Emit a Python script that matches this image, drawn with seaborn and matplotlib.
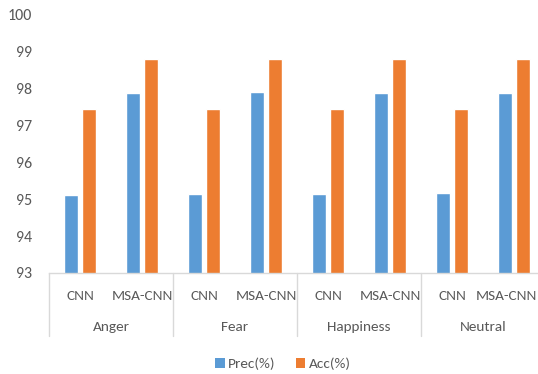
import matplotlib
matplotlib.use("Agg")
import matplotlib.pyplot as plt
import matplotlib.transforms as mtransforms
from matplotlib.patches import Patch
import seaborn as sns
import pandas as pd

emotions = ["Anger", "Fear", "Happiness", "Neutral"]
models = ["CNN", "MSA-CNN"]
prec = [95.12, 97.88, 95.14, 97.90, 95.14, 97.89, 95.17, 97.89]
acc = [97.44, 98.80, 97.44, 98.80, 97.44, 98.80, 97.44, 98.80]
y_ticks = [93, 94, 95, 96, 97, 98, 99, 100]
series_names = ["Prec(%)", "Acc(%)"]
colors = ["#5B9BD5", "#ED7D31"]

keys = [f"{e}|{m}" for e in emotions for m in models]
df = pd.DataFrame({
    "key": keys * 2,
    "value": prec + acc,
    "metric": [series_names[0]] * len(keys) + [series_names[1]] * len(keys),
})

sns.set_theme(style="white")
plt.rcParams["font.family"] = ["Carlito", "Lato", "DejaVu Sans"]

W, H = 538, 374
fs = 11
fig = plt.figure(figsize=(W / 100, H / 100), dpi=100)
left, right, top, bottom = 49, 545, 15, 273
ax = fig.add_axes([left / W, 1 - bottom / H, (right - left) / W, (bottom - top) / H])

sns.barplot(data=df, x="key", y="value", hue="metric", order=keys,
            hue_order=series_names, palette=colors, width=0.58, gap=0.22,
            ax=ax, legend=False, saturation=1)

ax.set_ylim(93, 100)
ax.set_xlim(-0.5, len(keys) - 0.5)
ax.set_yticks(y_ticks)
ax.set_yticklabels([str(t) for t in y_ticks], color="#595959", fontsize=11.5)
ax.tick_params(axis="y", length=0, pad=12)
ax.tick_params(axis="x", length=0)
ax.set_xticklabels([])
ax.set_xlabel("")
ax.set_ylabel("")
for s in ["left", "right", "top"]:
    ax.spines[s].set_visible(False)
ax.spines["bottom"].set_color("#D9D9D9")
ax.spines["bottom"].set_linewidth(1)

trans = mtransforms.blended_transform_factory(ax.transData, ax.transAxes)
ax_h = bottom - top
sub_y = -(296 - bottom) / ax_h
grp_y = -(327 - bottom) / ax_h
sep_y = -(336 - bottom) / ax_h

fig.canvas.draw()
renderer = fig.canvas.get_renderer()
for i, k in enumerate(keys):
    t = ax.text(i, sub_y, k.split("|")[1], transform=trans, ha="center", va="center",
                fontsize=fs, color="#595959")
    # keep the last label inside the figure edge
    bb = t.get_window_extent(renderer)
    if bb.x1 > W - 1:
        t.set_ha("right")
        t.set_transform(mtransforms.blended_transform_factory(fig.transFigure, ax.transAxes))
        t.set_x((W - 1) / W)
for g, e in enumerate(emotions):
    ax.text(2 * g + 0.5, grp_y, e, transform=trans, ha="center", va="center",
            fontsize=fs, color="#595959")
for g in range(len(emotions) + 1):
    x = 2 * g - 0.5
    ax.plot([x, x], [0, sep_y], transform=trans, color="#D9D9D9", lw=1, clip_on=False)

handles = [Patch(facecolor=c, edgecolor="none") for c in colors]
fig.legend(handles, series_names, loc="center", bbox_to_anchor=(283 / W, 1 - 364 / H),
           ncol=2, frameon=False, fontsize=fs, handlelength=0.6, handleheight=0.6,
           handletextpad=0.25, columnspacing=1.3, labelcolor="#595959")

fig.savefig("out.png", dpi=100)
